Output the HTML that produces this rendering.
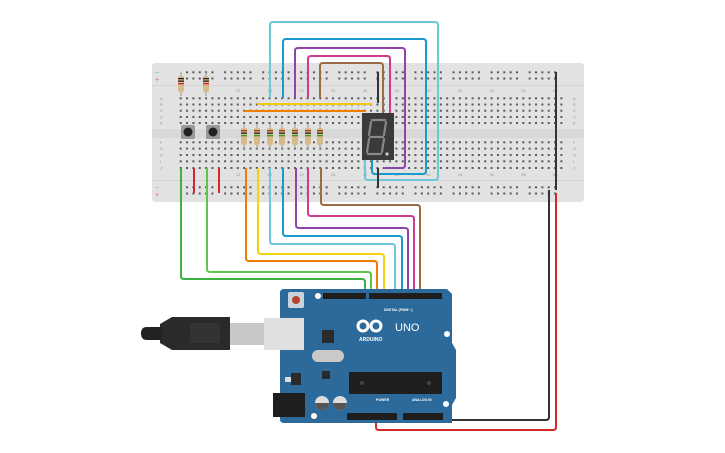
<!DOCTYPE html>
<html><head><meta charset="utf-8"><style>
html,body{margin:0;padding:0;background:#fff;width:725px;height:453px;overflow:hidden}
svg{display:block}
text{font-family:"Liberation Sans",sans-serif}
</style></head><body>
<svg id="s" width="725" height="453" viewBox="0 0 725 453" xmlns="http://www.w3.org/2000/svg">
<rect x="152" y="63" width="432" height="139" rx="3" fill="#e2e2e2"/>
<rect x="152" y="85" width="432" height="1" fill="#d4d4d4"/>
<rect x="152" y="180" width="432" height="1" fill="#d4d4d4"/>
<rect x="152" y="129" width="432" height="9" fill="#d8d8d8"/>
<g id="holes" fill="#5a5a5a"></g>
<g font-size="4" fill="#999" id="lbl"></g>
<text x="155" y="75" font-size="7" fill="#7ab">−</text><text x="155" y="82" font-size="7" fill="#e66">+</text>
<text x="155" y="190" font-size="7" fill="#7ab">−</text><text x="155" y="197" font-size="7" fill="#e66">+</text>
<g fill="none" stroke-width="2" stroke-linejoin="round">
<!-- top wires -->
<path d="M270 98V25q0-3 3-3H435q3 0 3 3V177q0 3-3 3H368q-3 0-3-3V158" stroke="#6ec6d9"/>
<path d="M283 98V42q0-3 3-3H423q3 0 3 3V171q0 3-3 3H375q-3 0-3-3V158" stroke="#1a9bd0"/>
<path d="M295 98V51q0-3 3-3H402q3 0 3 3V165q0 3-3 3H385" stroke="#8e44ad"/>
<path d="M308 98V59q0-3 3-3H387q3 0 3 3V114" stroke="#d13b8f"/>
<path d="M320 98V66q0-3 3-3H380q3 0 3 3V114" stroke="#9b6b43"/>
<path d="M378 72V103M378 168V188M556 72V190" stroke="#333"/>
<path d="M257 104H372" stroke="#f2c80f"/>
<path d="M244 111H366" stroke="#f07d00"/>
<path d="M194 168V193M219 168V193" stroke="#d62828"/>
<!-- lower wires -->
<path d="M181 168V276q0 3 3 3H362q3 0 3 3V293" stroke="#3cb043"/>
<path d="M207 168V269q0 3 3 3H368q3 0 3 3V293" stroke="#5cc84a"/>
<path d="M246 168V258q0 3 3 3H374q3 0 3 3V293" stroke="#f07d00"/>
<path d="M258 168V251q0 3 3 3H381q3 0 3 3V293" stroke="#f2d20f"/>
<path d="M270 168V241q0 3 3 3H392q3 0 3 3V293" stroke="#6ec6d9"/>
<path d="M283 168V233q0 3 3 3H399q3 0 3 3V293" stroke="#1a9bd0"/>
<path d="M296 168V225q0 3 3 3H405q3 0 3 3V293" stroke="#8e44ad"/>
<path d="M308 168V213q0 3 3 3H411q3 0 3 3V293" stroke="#d13b8f"/>
<path d="M321 168V202q0 3 3 3H417q3 0 3 3V293" stroke="#9b6b43"/>
<path d="M387 417V420H546q3 0 3-3V190" stroke="#333"/>
<path d="M376 417V427q0 3 3 3H553q3 0 3-3V193" stroke="#d62828"/>
</g>
<!-- resistors -->
<g id="res"></g>
<!-- buttons -->
<rect x="181" y="125" width="14" height="14" fill="#9a9a9a" rx="1"/><circle cx="188" cy="132" r="4.5" fill="#222"/>
<rect x="206" y="125" width="14" height="14" fill="#9a9a9a" rx="1"/><circle cx="213" cy="132" r="4.5" fill="#222"/>
<!-- 7 seg -->
<rect x="362" y="113" width="32" height="47" fill="#3a3a3a"/>
<g stroke="#888" stroke-width="2.2" fill="none" stroke-linecap="round">
<path d="M372 120H385M371 122L369 135M386 122L384 135M370 137H383M369 139L367 152M384 139L382 152M368 154H381"/>
</g>
<circle cx="387" cy="154" r="1.6" fill="#ccc"/>
<!-- Arduino -->
<path d="M284 289H447L452 294V343L456 350V398L452 405V423H284q-4 0-4-4V293q0-4 4-4Z" fill="#2b6a9a"/>
<rect x="323" y="293" width="43" height="6" fill="#1e1e1e"/><rect x="369" y="293" width="73" height="6" fill="#1e1e1e"/>
<rect x="347" y="413" width="50" height="7" fill="#1e1e1e"/><rect x="403" y="413" width="40" height="7" fill="#1e1e1e"/>
<circle cx="318" cy="296" r="3" fill="#fff"/><circle cx="447" cy="334" r="3" fill="#fff"/><circle cx="446" cy="404" r="3" fill="#fff"/><circle cx="314" cy="416" r="3" fill="#fff"/>
<rect x="288" y="292" width="16" height="16" fill="#c8d4e0" rx="2"/><circle cx="296" cy="300" r="4" fill="#b8432a"/>
<rect x="322" y="330" width="12" height="13" fill="#2a2a2a"/>
<rect x="312" y="350" width="32" height="12" rx="6" fill="#c9c9c9"/>
<rect x="322" y="371" width="8" height="8" fill="#2a2a2a"/>
<rect x="291" y="373" width="10" height="12" fill="#2a2a2a"/><rect x="285" y="377" width="6" height="5" fill="#ddd"/>
<rect x="273" y="393" width="32" height="24" fill="#1e1e1e"/>
<circle cx="322" cy="403" r="7" fill="#ddd"/><circle cx="340" cy="403" r="7" fill="#ddd"/>
<path d="M315 403A7 7 0 0 0 329 403Z M333 403A7 7 0 0 0 347 403Z" fill="#555"/>
<rect x="349" y="372" width="93" height="22" fill="#1e1e1e"/>
<circle cx="362" cy="383" r="2" fill="#444"/><circle cx="429" cy="383" r="2" fill="#444"/>
<g fill="none" stroke="#fff" stroke-width="3"><circle cx="363" cy="326" r="5"/><circle cx="376" cy="326" r="5"/></g>
<text x="359" y="341" font-size="5" fill="#fff" font-weight="bold">ARDUINO</text>
<text x="395" y="331" font-size="11" fill="#fff">UNO</text>
<text x="384" y="311" font-size="3.5" fill="#fff" font-weight="bold">DIGITAL (PWM ~)</text>
<text x="376" y="401" font-size="3.5" fill="#fff" font-weight="bold">POWER</text>
<text x="412" y="401" font-size="3.5" fill="#fff" font-weight="bold">ANALOG IN</text>
<!-- USB -->
<rect x="264" y="318" width="40" height="32" fill="#e0e0e0"/>
<rect x="230" y="323" width="34" height="22" fill="#c8c8c8"/>
<path d="M172 317H230V350H172L160 343V324Z" fill="#2a2a2a"/>
<rect x="190" y="323" width="30" height="20" fill="#333"/>
<path d="M147 327H162V340H147q-6 0-6-6.5T147 327Z" fill="#222"/>
</svg>
<script>
var H=document.getElementById('holes'),L=document.getElementById('lbl'),R=document.getElementById('res'),NS='http://www.w3.org/2000/svg';
function el(p,t,a){var e=document.createElementNS(NS,t);for(var k in a)e.setAttribute(k,a[k]);p.appendChild(e);return e}
function cx(c){return 180.7+(c-1)*6.345}
var rows=[98.3,104.5,110.7,117,123,142.3,148.6,155,161.3,168],lt='ABCDEFGHIJ';
for(var c=1;c<=61;c++){for(var r=0;r<10;r++)el(H,'rect',{x:cx(c)-1,y:rows[r]-1,width:2,height:2});}
for(var c=2;c<=60;c++){if((c-1)%6==0)continue;[72.3,78.5,187.3,193.5].forEach(function(y){el(H,'rect',{x:cx(c)-1,y:y-1,width:2,height:2})});}
for(var r=0;r<10;r++){var t=el(L,'text',{x:160,y:rows[r]+1.5});t.textContent=lt[r];t=el(L,'text',{x:573,y:rows[r]+1.5});t.textContent=lt[r];}
for(var c=10;c<=60;c+=5){var t=el(L,'text',{x:cx(c)-2,y:92});t.textContent=c;t=el(L,'text',{x:cx(c)-2,y:176});t.textContent=c;}
function res(x,y1,y2,b){el(R,'line',{x1:x,y1:y1,x2:x,y2:y2,stroke:'#999','stroke-width':1});el(R,'rect',{x:x-3,y:y1+4,width:6,height:y2-y1-8,rx:2,fill:'#d8b98a'});b.forEach(function(col,i){el(R,'rect',{x:x-3,y:y1+6+i*2.5,width:6,height:1.3,fill:col})});}
res(181,72,96,['#222','#222','#d62828']);res(206,72,96,['#222','#222','#d62828']);
[244,257,270,282,295,308,320].forEach(function(x){res(x,124,149,['#8b4513','#222','#3a9a2a'])});
</script>
</body></html>
